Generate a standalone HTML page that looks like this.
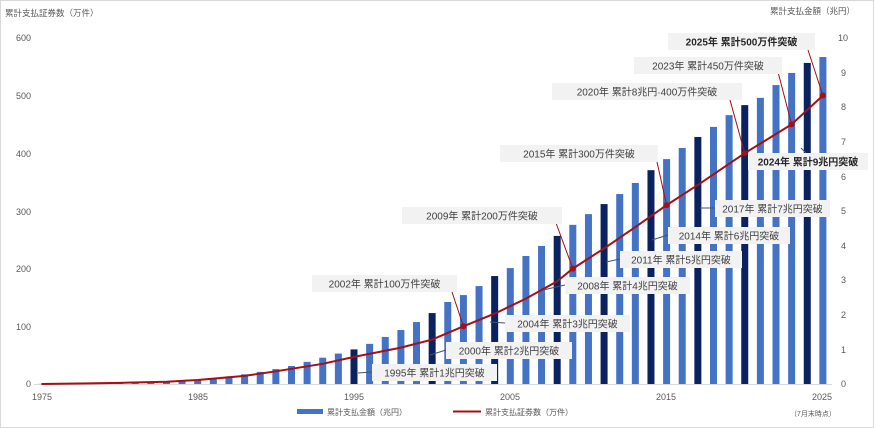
<!DOCTYPE html>
<html><head><meta charset="utf-8"><style>
body{margin:0;background:#fff}
svg{display:block;font-family:"Liberation Sans","Noto Sans CJK JP",sans-serif}
</style></head><body>
<svg width="874" height="428" viewBox="0 0 874 428">
<rect x="0.5" y="0.5" width="873" height="427" fill="#fff" stroke="#d9d9d9"/>
<text x="5" y="16" font-size="8.5" fill="#595959">累計支払証券数（万件）</text>
<text x="770" y="14" font-size="8.5" fill="#595959">累計支払金額（兆円）</text>
<g font-size="9" fill="#595959" text-anchor="end">
<text x="31" y="387">0</text><text x="31" y="330">100</text><text x="31" y="272">200</text><text x="31" y="215">300</text><text x="31" y="157">400</text><text x="31" y="99">500</text><text x="31" y="41">600</text>
</g>
<g font-size="9" fill="#595959" text-anchor="start">
<text x="841" y="387">0</text><text x="841" y="353">1</text><text x="841" y="318">2</text><text x="841" y="283">3</text><text x="841" y="249">4</text><text x="841" y="214">5</text><text x="841" y="180">6</text><text x="841" y="145">7</text><text x="841" y="110">8</text><text x="841" y="76">9</text><text x="838" y="41">10</text>
</g>
<g id="bars"></g>
<line x1="34" y1="384.5" x2="832" y2="384.5" stroke="#d9d9d9"/>
<g font-size="9" fill="#595959" text-anchor="middle">
<text x="42" y="400">1975</text><text x="198" y="400">1985</text><text x="354" y="400">1995</text><text x="510" y="400">2005</text><text x="666" y="400">2015</text><text x="822" y="400">2025</text>
</g>
<polyline id="line" fill="none" stroke="#a50f15" stroke-width="2"/>
<g id="ann"></g>
<rect x="297" y="409" width="26" height="5" fill="#4472c4"/>
<text x="327" y="415" font-size="8" fill="#595959">累計支払金額（兆円）</text>
<line x1="453" y1="411.5" x2="481" y2="411.5" stroke="#a50f15" stroke-width="2"/>
<text x="485" y="415" font-size="8" fill="#595959">累計支払証券数（万件）</text>
<text x="790" y="416" font-size="7" fill="#595959">（7月末時点）</text>
</svg>
<script>
const ns="http://www.w3.org/2000/svg";
const X=y=>41.4+(y-1975)*15.63;
const R=v=>384-v*34.6, L=v=>384-v*0.577;
const amt={1975:0.003,1976:0.006,1977:0.01,1978:0.015,1979:0.02,1980:0.03,1981:0.04,1982:0.06,1983:0.08,1984:0.1,1985:0.13,1986:0.17,1987:0.22,1988:0.28,1989:0.35,1990:0.43,1991:0.52,1992:0.64,1993:0.76,1994:0.88,1995:1.0,1996:1.16,1997:1.36,1998:1.56,1999:1.79,2000:2.05,2001:2.37,2002:2.57,2003:2.83,2004:3.12,2005:3.35,2006:3.7,2007:3.99,2008:4.28,2009:4.6,2010:4.91,2011:5.2,2012:5.49,2013:5.81,2014:6.18,2015:6.5,2016:6.82,2017:7.14,2018:7.43,2019:7.77,2020:8.06,2021:8.27,2022:8.64,2023:8.99,2024:9.28,2025:9.45};
const dark=[1995,2000,2004,2008,2011,2014,2017,2020,2024];
let g=document.getElementById('bars'),h='';
for(const y in amt){const top=R(amt[y]);h+=`<rect x="${X(+y)-3.5}" y="${top}" width="7" height="${384-top}" fill="${dark.includes(+y)?'#0b2260':'#4472c4'}"/>`;}
g.innerHTML=h;
const cnt={1975:0,1978:1,1980:2,1983:4,1985:7,1988:14,1990:22,1993:35,1995:47,1998:63,2000:77,2002:100,2004:122,2006:148,2008:178,2009:200,2011:235,2013:272,2015:310,2017:345,2020:400,2023:450,2025:500};
document.getElementById('line').setAttribute('points',Object.keys(cnt).map(y=>X(+y)+','+L(cnt[y])).join(' '));
const A=[
[668,33,147,"2025年 累計500万件突破",1,[808,50,X(2025),L(500)]],
[634,57,148,"2023年 累計450万件突破",0,[778,72,X(2023),L(450)]],
[552,83,190,"2020年 累計8兆円·400万件突破",0,[730,100,X(2020),L(400)]],
[500,145,158,"2015年 累計300万件突破",0,[657,162,X(2015),L(310)]],
[748,153,120,"2024年 累計9兆円突破",1,[801,148,806,153]],
[715,200,115,"2017年 累計7兆円突破",0,[700,208,715,208]],
[402,207,160,"2009年 累計200万件突破",0,[556,223,X(2009),L(200)]],
[668,227,122,"2014年 累計6兆円突破",0,[652,240,668,235]],
[620,251,122,"2011年 累計5兆円突破",0,[606,262,620,259]],
[565,277,125,"2008年 累計4兆円突破",0,[543,290,565,285]],
[312,275,145,"2002年 累計100万件突破",0,[452,292,X(2002),L(100)]],
[505,315,125,"2004年 累計3兆円突破",0,[490,322,505,323]],
[446,342,126,"2000年 累計2兆円突破",0,[430,355,446,350]],
[372,364,125,"1995年 累計1兆円突破",0,[358,373,372,372]]];
let a='';
for(const [x,y,w,t,b,l] of A){
 a+=`<line x1="${l[0]}" y1="${l[1]}" x2="${l[2]}" y2="${l[3]}" stroke="${Math.abs(l[3]-l[1])<10?'#44546a':'#a50f15'}" stroke-width="1"/>`;
}
for(const [x,y,w,t,b,l] of A){
 a+=`<rect x="${x}" y="${y}" width="${w}" height="17" fill="#f2f2f2"/><text x="${x+w/2}" y="${y+12.5}" font-size="10" text-anchor="middle" fill="${b?'#262626':'#404040'}" font-weight="${b?'bold':'normal'}">${t}</text>`;
}
for(const y of [2002,2009,2015,2020,2023,2025]) a+=`<circle cx="${X(y)}" cy="${L(cnt[y])}" r="3" fill="#a50f15"/>`;
document.getElementById('ann').innerHTML=a;
</script>
</body></html>
